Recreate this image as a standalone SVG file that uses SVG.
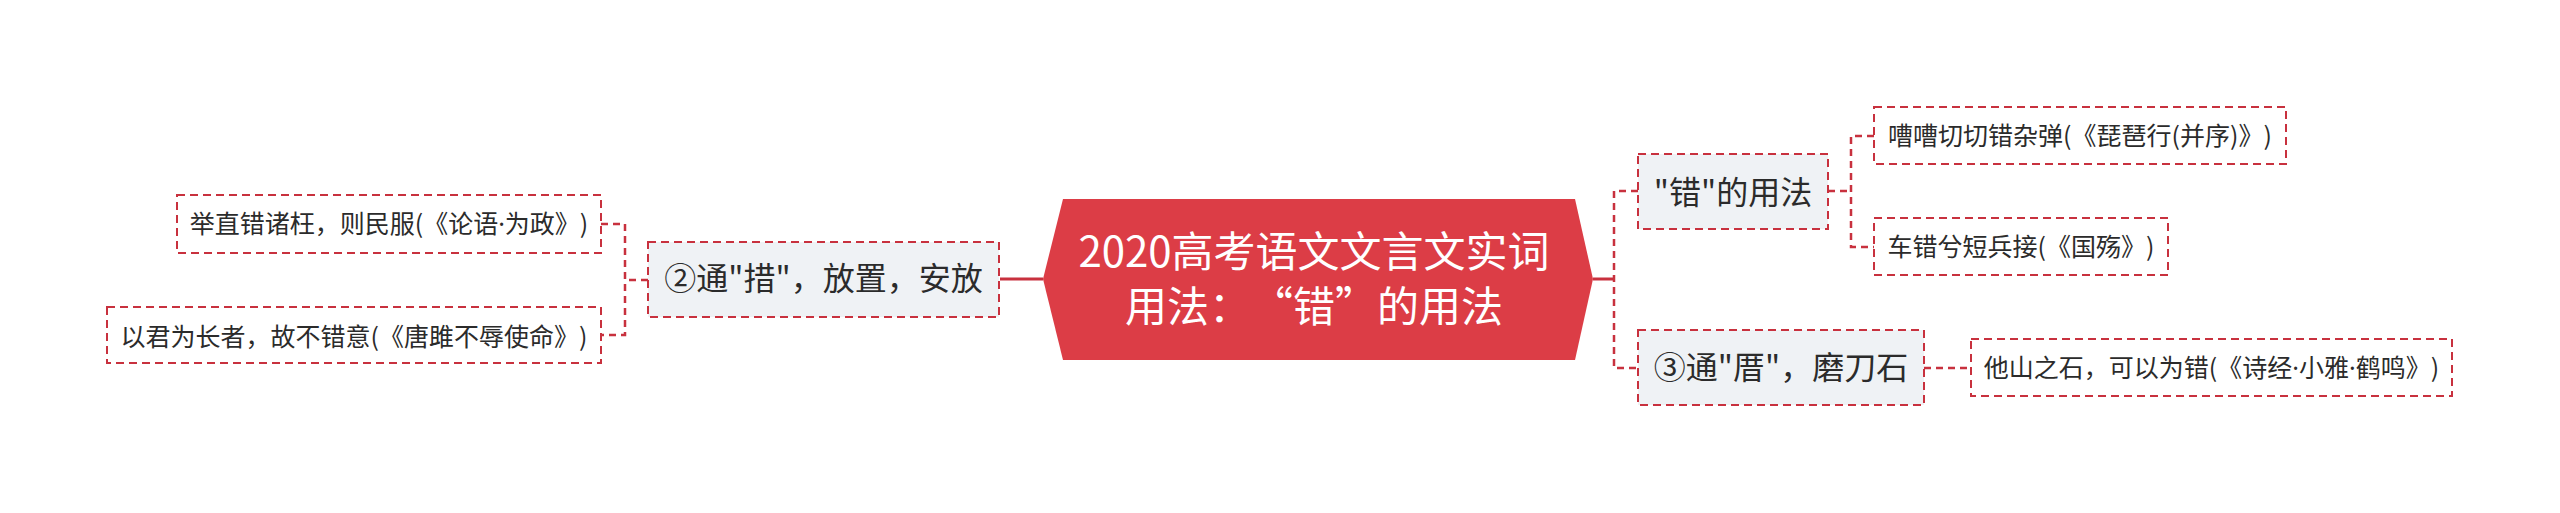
<svg xmlns="http://www.w3.org/2000/svg" width="2560" height="513" viewBox="0 0 2560 513">
<style>
text{font-family:"Noto Sans CJK SC","Noto Sans",sans-serif;fill:#2b2b2b;text-anchor:middle;text-spacing-trim:space-all}
.dot{font-family:"Noto Sans",sans-serif}
.box{stroke:#c8313e;stroke-width:2;stroke-dasharray:8 5;fill:#ffffff}
.mid{fill:#eff2f5}
.leaf{font-size:25px}
.sub{font-size:32px}
.ctr{font-size:42px;fill:#ffffff}
.dash{fill:none;stroke:#c8313e;stroke-width:2.5;stroke-dasharray:7 5}
.solid{fill:none;stroke:#c8313e;stroke-width:3}
</style>
<rect width="2560" height="513" fill="#ffffff"/>
<g id="connectors">
<path class="solid" d="M1000,279 H1043"/>
<path class="solid" d="M1593,279 H1614"/>
<path class="dash" d="M1638,191 H1614 V368 H1638"/>
<path class="dash" d="M1828,191 H1851"/>
<path class="dash" d="M1874,136 H1851 V247 H1874"/>
<path class="dash" d="M1924,368 H1971"/>
<path class="dash" d="M648,280 H625"/>
<path class="dash" d="M601,224 H625 V335 H601"/>
</g>
<g id="center">
<polygon points="1043,279 1063,199 1575,199 1593,279 1575,360 1063,360" fill="#dc3d46"/>
<text class="ctr" x="1314" y="267">2020高考语文文言文实词</text>
<text class="ctr" x="1314" y="322">用法：“错”的用法</text>
</g>
<g id="node-tongcuo">
<rect class="box mid" x="648" y="242" width="351" height="75"/>
<text class="sub" x="823.5" y="290">②通"措"，放置，安放</text>
</g>
<g id="leaf-juzhi">
<rect class="box" x="177" y="195" width="424" height="58"/>
<text class="leaf" x="389" y="233">举直错诸枉，则民服(《论语<tspan class="dot">·</tspan>为政》)</text>
</g>
<g id="leaf-yijun">
<rect class="box" x="107" y="307" width="494" height="56"/>
<text class="leaf" x="354" y="346">以君为长者，故不错意(《唐雎不辱使命》)</text>
</g>
<g id="node-yongfa">
<rect class="box mid" x="1638" y="154" width="190" height="75"/>
<text class="sub" x="1733" y="204">"错"的用法</text>
</g>
<g id="leaf-caocao">
<rect class="box" x="1874" y="107" width="412" height="57"/>
<text class="leaf" x="2080" y="145">嘈嘈切切错杂弹(《琵琶行(并序)》)</text>
</g>
<g id="leaf-checuo">
<rect class="box" x="1874" y="218" width="294" height="57"/>
<text class="leaf" x="2021" y="256">车错兮短兵接(《国殇》)</text>
</g>
<g id="node-tongcuo2">
<rect class="box mid" x="1638" y="330" width="286" height="75"/>
<text class="sub" x="1781" y="379">③通"厝"，磨刀石</text>
</g>
<g id="leaf-tashan">
<rect class="box" x="1971" y="339" width="481" height="57"/>
<text class="leaf" x="2211.5" y="377">他山之石，可以为错(《诗经<tspan class="dot">·</tspan>小雅<tspan class="dot">·</tspan>鹤鸣》)</text>
</g>
</svg>
